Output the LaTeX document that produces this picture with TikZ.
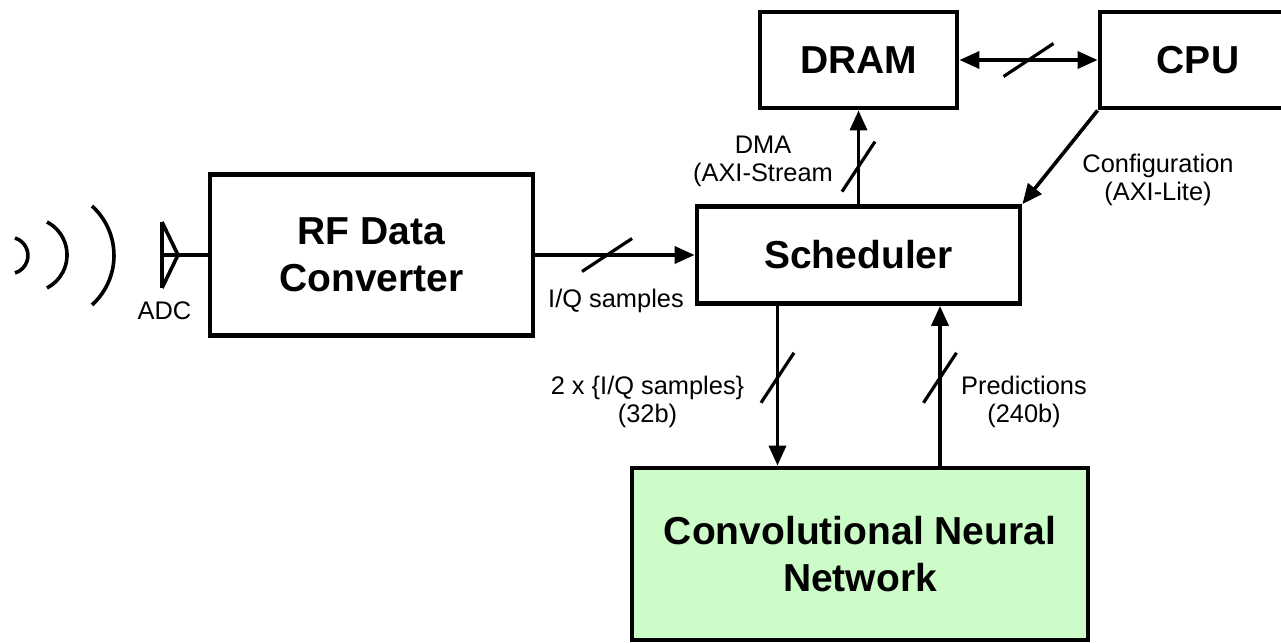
\documentclass[tikz,border=0pt]{standalone}
\usepackage{fontspec}
\setmainfont{Liberation Sans}
\usetikzlibrary{arrows.meta}
\definecolor{cnngreen}{RGB}{204,252,200}

\begin{document}
\begin{tikzpicture}[x=0.5pt,y=-0.5pt,
        >={Triangle[length=10pt,width=8.5pt]},
        block/.style={draw,line width=2.4pt,inner sep=0pt,align=center,
            font=\fontsize{19.5}{23.4}\selectfont\bfseries},
        lbl/.style={inner sep=0pt,align=center,font=\fontsize{12.7}{14}\selectfont},
        bus/.style={line width=1.8pt},
        busmark/.style={line width=1.6pt},
        wave/.style={line width=1.8pt}]
            \useasboundingbox (0,0) rectangle (1281,643);

            \node[block, minimum width=161.5pt, minimum height=80.5pt] (rf) at (371.5,255) {RF Data\\Converter};
            \node[block, minimum width=161.5pt, minimum height=48.5pt] (sched) at (858.5,255) {Scheduler};
            \node[block, minimum width=98.5pt, minimum height=48pt] (dram) at (858.5,60) {DRAM};
            \node[block, minimum width=98pt, minimum height=48pt] (cpu) at (1198,60) {CPU};
            \node[block, fill=cnngreen, minimum width=228pt, minimum height=86pt] (cnn) at (860,554) {Convolutional Neural\\Network};

            % antenna and waves
            \coordinate (ant) at (162,255);
            \draw[wave] (162,222) -- (162,288);
            \draw[wave] (162,222) -- (178,255) -- (162,288);
            \draw[wave] (ant) -- (rf.west);
            \node[lbl] (adcLbl) at (164.5,311) {ADC};
            \draw[wave] (15,238) arc[start angle=73, end angle=-73, radius=9.15pt];
            \draw[wave] (47,222) arc[start angle=62.5, end angle=-62.5, radius=18.6pt];
            \draw[wave] (92,206) arc[start angle=47.9, end angle=-47.9, radius=33.35pt];

            % buses
            \draw[bus,->] (rf.east) -- coordinate[pos=0.45] (mIQ) (sched.west);
            \draw[busmark] (mIQ) ++(-25,16.5) -- ++(50,-33);
            \node[lbl] (iqLbl) at (616,301) {I/Q samples};

            \draw[bus,->] (sched.north) -- coordinate[pos=0.4] (mDMA) (dram.south);
            \draw[busmark] (mDMA) ++(-16.5,25) -- ++(33,-50);
            \node[lbl] (dmaLbl) at (763,161) {DMA\\(AXI-Stream};

            \draw[bus,<->] (dram.east) -- coordinate (mMem) (cpu.west);
            \draw[busmark] (mMem) ++(-25,16.5) -- ++(50,-33);

            \draw[bus,->] (cpu.south west) -- (sched.north east);
            \node[lbl] (cfgLbl) at (1158,180) {Configuration\\(AXI-Lite)};

            \coordinate (inTop) at ([xshift=-40.5pt]sched.south);
            \coordinate (outTop) at ([xshift=40.75pt]sched.south);
            \draw[bus,->] (inTop) -- coordinate[pos=0.45] (mIn) (inTop |- cnn.north);
            \draw[busmark] (mIn) ++(-16.5,25) -- ++(33,-50);
            \node[lbl] (inLbl) at (647.5,402) {2 x \{I/Q samples\}\\(32b)};

            \draw[bus,->] (outTop |- cnn.north) -- coordinate[pos=0.55] (mOut) (outTop);
            \draw[busmark] (mOut) ++(-16.5,25) -- ++(33,-50);
            \node[lbl] (outLbl) at (1024,402) {Predictions\\(240b)};
        \end{tikzpicture}
\end{document}
